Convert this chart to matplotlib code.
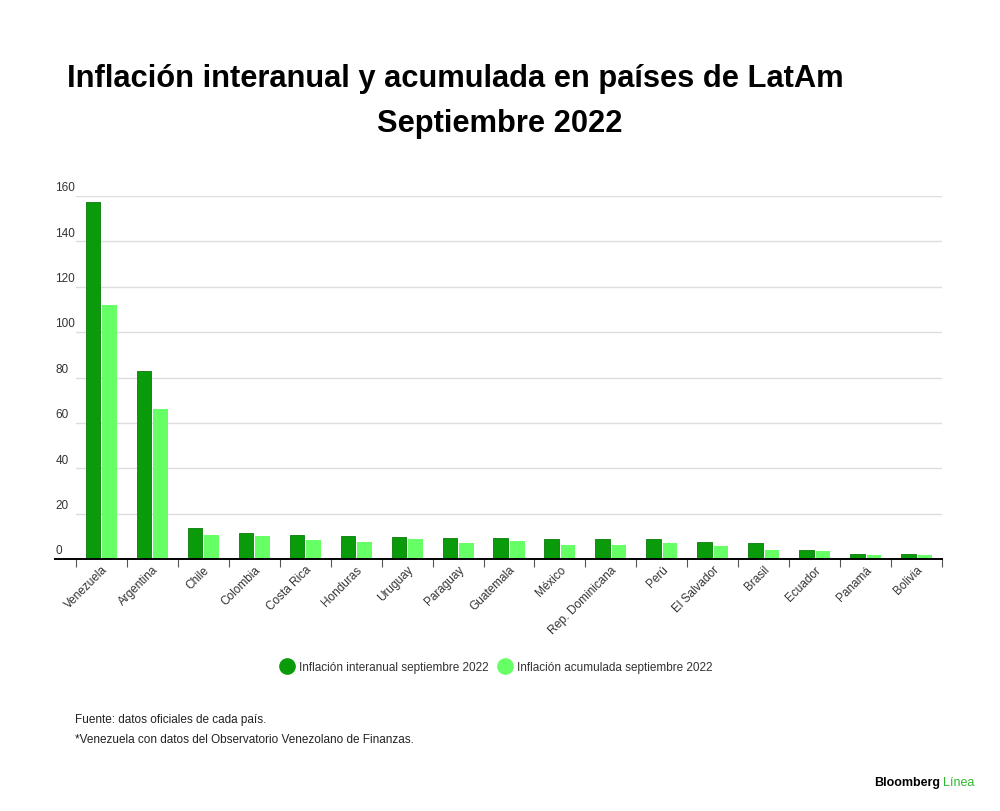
import matplotlib
matplotlib.use("Agg")
import matplotlib.pyplot as plt
import matplotlib.transforms as mtransforms
import numpy as np

plt.rcParams['font.family'] = ['Liberation Sans', 'DejaVu Sans']

# datos
paises = ['Venezuela', 'Argentina', 'Chile', 'Colombia', 'Costa Rica', 'Honduras',
          'Uruguay', 'Paraguay', 'Guatemala', 'México', 'Rep. Dominicana', 'Perú',
          'El Salvador', 'Brasil', 'Ecuador', 'Panamá', 'Bolivia']
interanual = [157.2, 83.0, 13.7, 11.4, 10.4, 10.2, 9.9, 9.3, 9.1, 8.7, 8.7, 8.7,
              7.6, 7.2, 4.1, 2.1, 2.1]
acumulada = [112.0, 66.1, 10.8, 10.1, 8.5, 7.6, 8.8, 7.2, 8.1, 6.3, 6.2, 6.9,
             5.9, 4.1, 3.7, 1.8, 1.9]
yticks = [0, 20, 40, 60, 80, 100, 120, 140, 160]

verde_oscuro = '#0a9b0a'
verde_claro = '#66ff66'

fig = plt.figure(figsize=(10, 8.12), dpi=100)
ax = fig.add_axes([0.076, 0.3103, 0.866, 0.4471])

x = np.arange(len(paises))
w = 0.285
ax.bar(x - w / 2 - 0.02, interanual, w, color=verde_oscuro, edgecolor='#087a08',
       linewidth=0.6, zorder=3)
ax.bar(x + w / 2 + 0.02, acumulada, w, color=verde_claro, zorder=3)

ax.set_xlim(-0.5, len(paises) - 0.5)
ax.set_ylim(0, 160)

# rejilla horizontal
for v in yticks[1:]:
    ax.axhline(v, color='#dddddd', linewidth=1, zorder=1)

# etiquetas eje y encima de las lineas
trans = mtransforms.blended_transform_factory(ax.transAxes, ax.transData)
for v in yticks:
    ax.text(-0.024, v + 1.2, str(v), transform=trans, ha='left', va='bottom',
            fontsize=8.5, color='#333333')
ax.set_yticks([])

for s in ['top', 'right', 'left', 'bottom']:
    ax.spines[s].set_visible(False)
ax.plot([-0.024, 1], [0, 0], transform=ax.transAxes, color='black',
        linewidth=1.4, clip_on=False, zorder=4)

ax.set_xticks(x)
ax.set_xticklabels(paises, rotation=45, ha='right', rotation_mode='anchor',
                   fontsize=8.5, color='#333333')
ax.tick_params(axis='x', which='major', length=0, pad=3)
ax.set_xticks(np.arange(-0.5, len(paises) + 0.5, 1), minor=True)
ax.tick_params(axis='x', which='minor', length=6, width=0.8, color='#555555')

# titulo
fig.text(0.067, 0.893, 'Inflación interanual y acumulada en países de LatAm',
         fontsize=22.2, fontweight='bold', ha='left', va='baseline')
fig.text(0.5, 0.838, 'Septiembre 2022', fontsize=22.2, fontweight='bold',
         ha='center', va='baseline')

# leyenda con circulos
handles = [plt.Line2D([], [], marker='o', linestyle='', markersize=11,
                      markerfacecolor=verde_oscuro, markeredgecolor=verde_oscuro),
           plt.Line2D([], [], marker='o', linestyle='', markersize=11,
                      markerfacecolor=verde_claro, markeredgecolor=verde_claro)]
fig.legend(handles, ['Inflación interanual septiembre 2022',
                     'Inflación acumulada septiembre 2022'],
           loc='center', bbox_to_anchor=(0.497, 0.177), ncol=2, frameon=False,
           fontsize=8.5, handlelength=1.0, handletextpad=0.5, columnspacing=0.9,
           labelcolor='#333333')

# notas
fig.text(0.075, 0.1133, 'Fuente: datos oficiales de cada país.', fontsize=8.5,
         color='#222222', va='center')
fig.text(0.075, 0.0887, '*Venezuela con datos del Observatorio Venezolano de Finanzas.',
         fontsize=8.5, color='#222222', va='center')

fig.text(0.940, 0.0357, 'Bloomberg', fontsize=9, fontweight='bold',
         ha='right', va='center')
fig.text(0.943, 0.0357, 'Línea', fontsize=9, color='#2db82d',
         ha='left', va='center')

fig.savefig('out.png', dpi=100)
